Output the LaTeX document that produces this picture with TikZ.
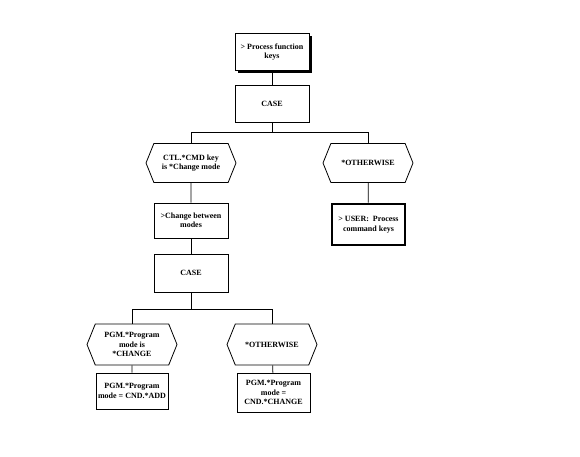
\documentclass[tikz,border=0pt]{standalone}
\usepackage{fontspec}
\setmainfont{Liberation Serif}
\usetikzlibrary{shapes.symbols,shadows}

\begin{document}
\begin{tikzpicture}[
  x=1pt,y=-1pt,
  every node/.style={font=\fontsize{8}{9.5}\selectfont\bfseries},
  box/.style={draw,line width=0.8pt,fill=white,align=center,minimum width=74pt,minimum height=37pt,inner sep=1pt},
  hexa/.style={draw,line width=0.8pt,signal,signal to=west and east,signal pointer angle=136,align=center,minimum width=90pt,minimum height=39pt,inner sep=1pt},
  link/.style={line width=0.8pt}
]
  \useasboundingbox (0,0) rectangle (580,457);
  % upper level
  \node[box,drop shadow={shadow xshift=3pt,shadow yshift=-3pt,fill=black,opacity=1}] (fkeys) at (272,52) {> Process function\\keys};
  \node[box] (case1) at (272,103.5) {CASE};
  \node[hexa] (cmd) at (191,163) {CTL.*CMD key\\is *Change mode};
  \node[hexa] (oth1) at (368,163) {*OTHERWISE};
  \node[box,line width=2.6pt,minimum width=73pt,minimum height=41pt] (user) at (368.5,224.5) {> USER:\ \ Process\\command keys};
  % lower level
  \node[box,minimum height=35pt] (chg) at (191,220.5) {>Change between\\modes};
  \node[box,minimum height=38pt] (case2) at (191,273) {CASE};
  \node[hexa,minimum height=41pt] (pgm) at (132,344.5) {PGM.*Program\\mode is\\*CHANGE};
  \node[hexa,minimum height=41pt] (oth2) at (272,344.5) {*OTHERWISE};
  \node[box,minimum width=72pt,minimum height=36pt] (add) at (132,391) {PGM.*Program\\mode = CND.*ADD};
  \node[box,minimum width=73pt,minimum height=39pt] (chgm) at (273.5,392.5) {PGM.*Program\\mode =\\CND.*CHANGE};
  \coordinate (j1) at (272,132);
  \coordinate (j2) at (191,309);
  \draw[link] (fkeys) -- (case1);
  \draw[link] (case1) -- (j1);
  \draw[link] (cmd.north) -- (cmd.north |- j1) -- (oth1.north |- j1) -- (oth1.north);
  \draw[link] (oth1) -- (user);
  \draw[link] (cmd) -- (chg);
  \draw[link] (chg) -- (case2);
  \draw[link] (case2) -- (j2);
  \draw[link] (pgm.north) -- (pgm.north |- j2) -- (oth2.north |- j2) -- (oth2.north);
  \draw[link] (pgm) -- (add);
  \draw[link] (oth2) -- (chgm);
\end{tikzpicture}
\end{document}
